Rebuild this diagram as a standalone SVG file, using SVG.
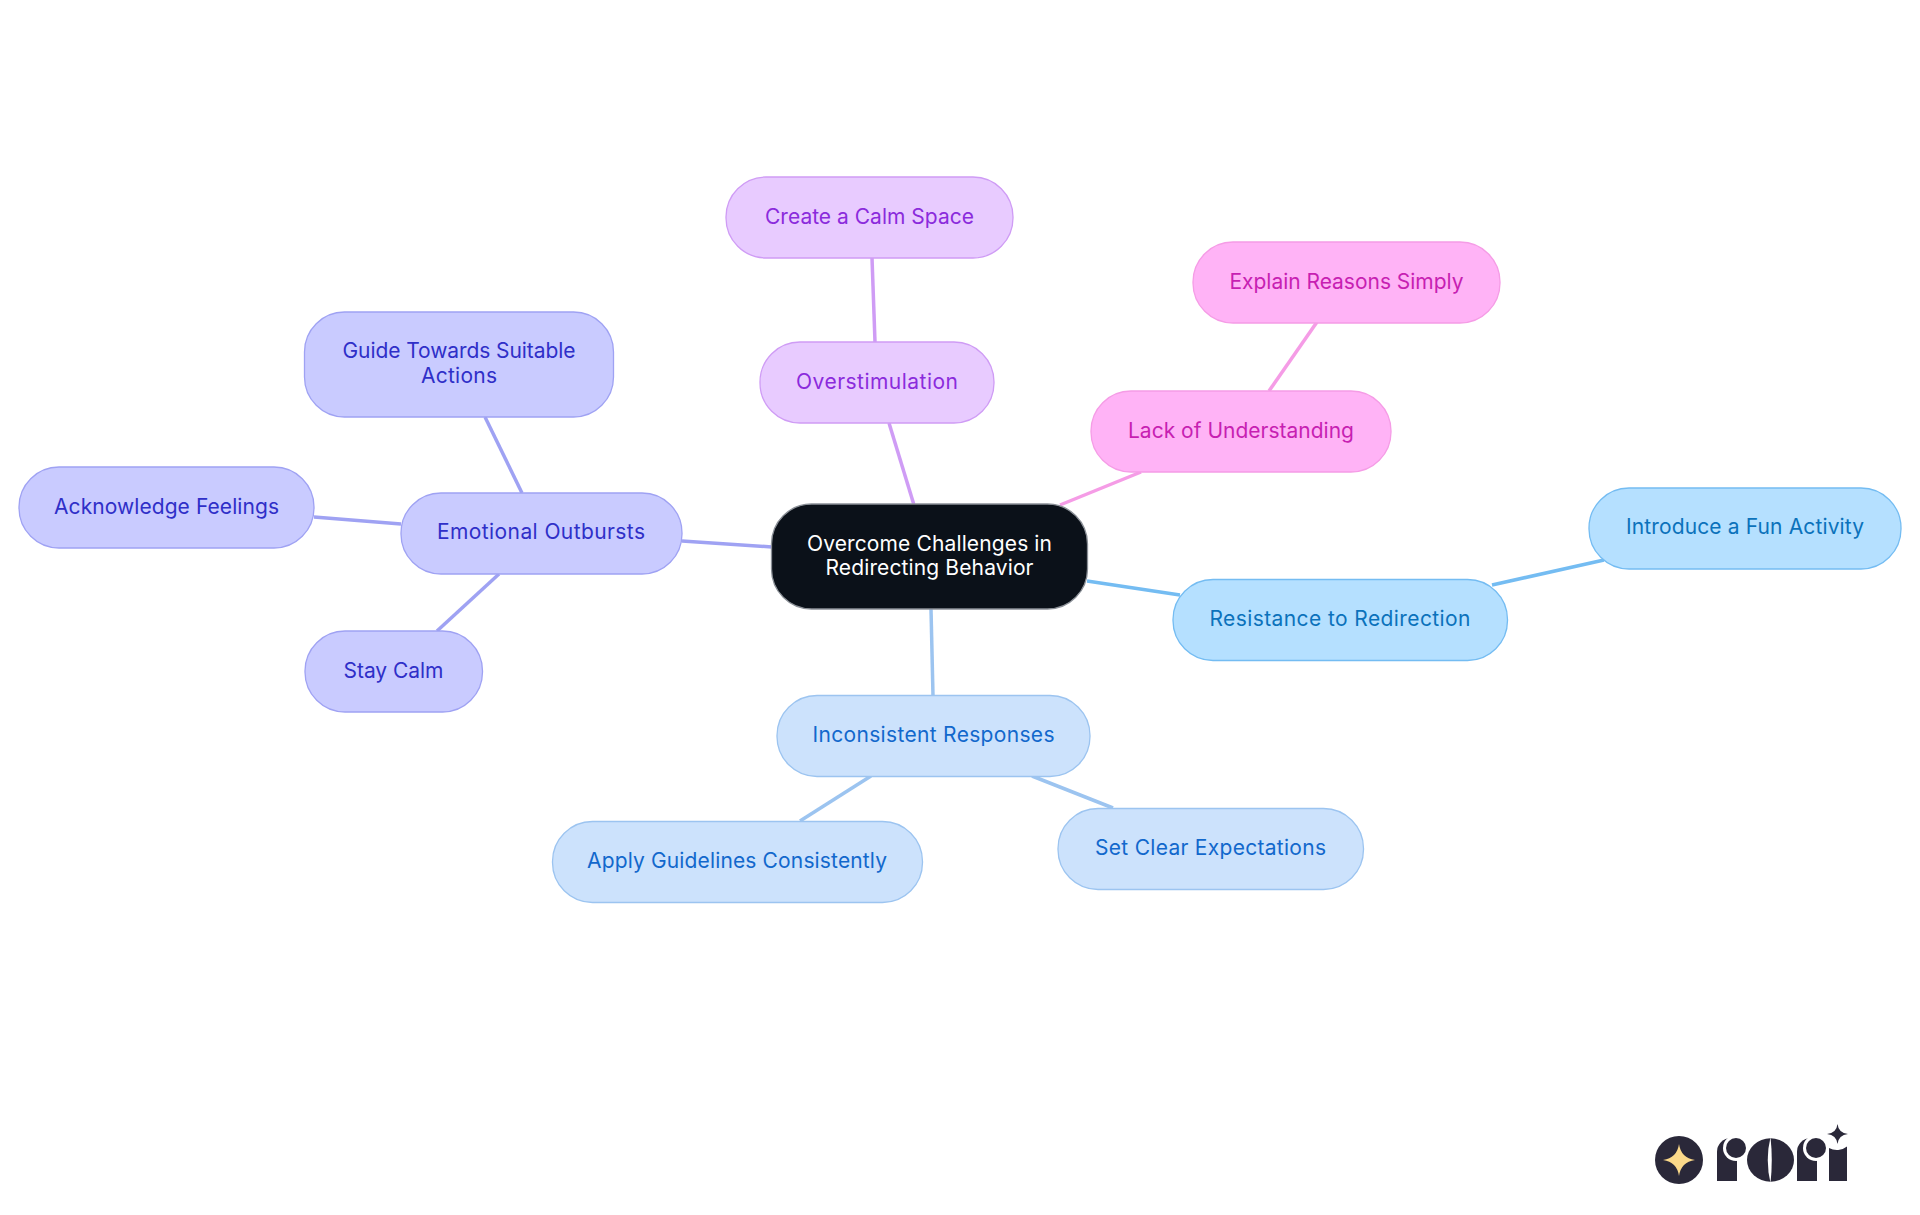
<svg xmlns="http://www.w3.org/2000/svg" width="1920" height="1215" viewBox="0 0 1920 1215">
<style>
text{font-family:"Inter","Noto Sans","Liberation Sans",sans-serif;font-size:21px;font-weight:400;text-anchor:middle}
#edges line{stroke-width:3.500;fill:none}
.n rect{stroke-width:1.300}
.r0 rect{fill:#0b1119;stroke:#8a8f96}.r0 text{fill:#fff}
.ind rect{fill:#c9cbff;stroke:#9fa2f3}.ind text{fill:#2f2fc8}
.pur rect{fill:#e8cbff;stroke:#cf9cf5}.pur text{fill:#8b2bdc}
.pnk rect{fill:#ffb3f6;stroke:#f59ce6}.pnk text{fill:#c71fb2}
.sky rect{fill:#b5e0ff;stroke:#74bcf2}.sky text{fill:#0b72bb}
.blu rect{fill:#cce2fc;stroke:#9cc4f0}.blu text{fill:#1268cc}
.e-ind{stroke:#9fa2f3}.e-pur{stroke:#cf9cf5}.e-pnk{stroke:#f59ce6}.e-sky{stroke:#74bcf2}.e-blu{stroke:#9cc4f0}
.logo{fill:#2a2839}
.gap{fill:#fff}
</style>
<rect width="1920" height="1215" fill="#fff"/>
<g id="edges">
<line class="e-ind" x1="682" y1="541" x2="772" y2="547"/>
<line class="e-ind" x1="485" y1="417" x2="522" y2="493"/>
<line class="e-ind" x1="314" y1="517" x2="401" y2="524"/>
<line class="e-ind" x1="437" y1="631" x2="499" y2="574"/>
<line class="e-pur" x1="889" y1="423" x2="914" y2="505"/>
<line class="e-pur" x1="872" y1="258" x2="875" y2="342"/>
<line class="e-pnk" x1="1060" y1="505" x2="1141" y2="472"/>
<line class="e-pnk" x1="1269" y1="391" x2="1317" y2="322"/>
<line class="e-sky" x1="1087" y1="581" x2="1180" y2="595"/>
<line class="e-sky" x1="1492" y1="585" x2="1604" y2="560"/>
<line class="e-blu" x1="931" y1="609" x2="933" y2="696"/>
<line class="e-blu" x1="800" y1="821" x2="871" y2="776"/>
<line class="e-blu" x1="1032" y1="776" x2="1113" y2="808"/>
</g>
<g id="root" class="n r0"><rect x="771.500" y="504" width="316" height="105" rx="40"/><text x="929.500" y="551" textLength="245" lengthAdjust="spacing">Overcome Challenges in</text><text x="929.500" y="575" textLength="208" lengthAdjust="spacing">Redirecting Behavior</text></g>
<g id="n-emotional" class="n ind"><rect x="401" y="493" width="281" height="81" rx="40"/><text x="541" y="539" textLength="208" lengthAdjust="spacing">Emotional Outbursts</text></g>
<g id="n-guide" class="n ind"><rect x="304.500" y="312" width="309" height="105" rx="40"/><text x="459" y="358" textLength="233" lengthAdjust="spacing">Guide Towards Suitable</text><text x="459" y="383" textLength="76" lengthAdjust="spacing">Actions</text></g>
<g id="n-ack" class="n ind"><rect x="19" y="467" width="295" height="81" rx="40"/><text x="166.500" y="514" textLength="225" lengthAdjust="spacing">Acknowledge Feelings</text></g>
<g id="n-stay" class="n ind"><rect x="305" y="631" width="177.500" height="81" rx="40"/><text x="393.500" y="678" textLength="100" lengthAdjust="spacing">Stay Calm</text></g>
<g id="n-over" class="n pur"><rect x="760" y="342" width="234" height="81" rx="40"/><text x="877" y="389" textLength="162" lengthAdjust="spacing">Overstimulation</text></g>
<g id="n-calm" class="n pur"><rect x="726" y="177" width="287" height="81" rx="40"/><text x="869.500" y="224" textLength="209" lengthAdjust="spacing">Create a Calm Space</text></g>
<g id="n-lack" class="n pnk"><rect x="1091" y="391" width="300" height="81" rx="40"/><text x="1241" y="438" textLength="226" lengthAdjust="spacing">Lack of Understanding</text></g>
<g id="n-explain" class="n pnk"><rect x="1193" y="242" width="307" height="81" rx="40"/><text x="1346.500" y="289" textLength="234" lengthAdjust="spacing">Explain Reasons Simply</text></g>
<g id="n-resist" class="n sky"><rect x="1173" y="579.500" width="334.500" height="81" rx="40"/><text x="1340" y="626" textLength="261" lengthAdjust="spacing">Resistance to Redirection</text></g>
<g id="n-intro" class="n sky"><rect x="1589" y="488" width="312" height="81" rx="40"/><text x="1745" y="534" textLength="238" lengthAdjust="spacing">Introduce a Fun Activity</text></g>
<g id="n-incons" class="n blu"><rect x="777" y="695.500" width="313" height="81" rx="40"/><text x="933.500" y="742" textLength="242" lengthAdjust="spacing">Inconsistent Responses</text></g>
<g id="n-apply" class="n blu"><rect x="552.500" y="821.500" width="370" height="81" rx="40"/><text x="737" y="868" textLength="300" lengthAdjust="spacing">Apply Guidelines Consistently</text></g>
<g id="n-set" class="n blu"><rect x="1058" y="808.500" width="305.500" height="81" rx="40"/><text x="1210.500" y="855" textLength="231" lengthAdjust="spacing">Set Clear Expectations</text></g>
<g id="logo">
<circle class="logo" cx="1679" cy="1160" r="24"/>
<path fill="#fbd98a" d="M1679 1144Q1681 1158 1695 1160Q1681 1162 1679 1176Q1677 1162 1663 1160Q1677 1158 1679 1144Z"/>
<path class="logo" d="M1717 1181V1152A14 14 0 0 1 1731 1138H1737V1181Z"/>
<circle class="gap" cx="1736" cy="1148" r="13"/>
<circle class="logo" cx="1736" cy="1148" r="10"/>
<ellipse class="logo" cx="1770.500" cy="1160" rx="23.500" ry="21.700"/>
<path class="gap" d="M1770.500 1137Q1765 1160 1770.500 1183Q1773 1160 1770.500 1137Z"/>
<path class="logo" d="M1797 1181V1152A14 14 0 0 1 1811 1138H1817V1181Z"/>
<circle class="gap" cx="1816" cy="1148" r="13"/>
<circle class="logo" cx="1816" cy="1148" r="10"/>
<path class="logo" d="M1829 1181V1148A16 16 0 0 0 1847 1146.500V1181Z"/>
<path class="logo" d="M1837.500 1124Q1838.500 1133 1848 1134Q1838.500 1135 1837.500 1144Q1836.500 1135 1827 1134Q1836.500 1133 1837.500 1124Z"/>
</g>
</svg>
